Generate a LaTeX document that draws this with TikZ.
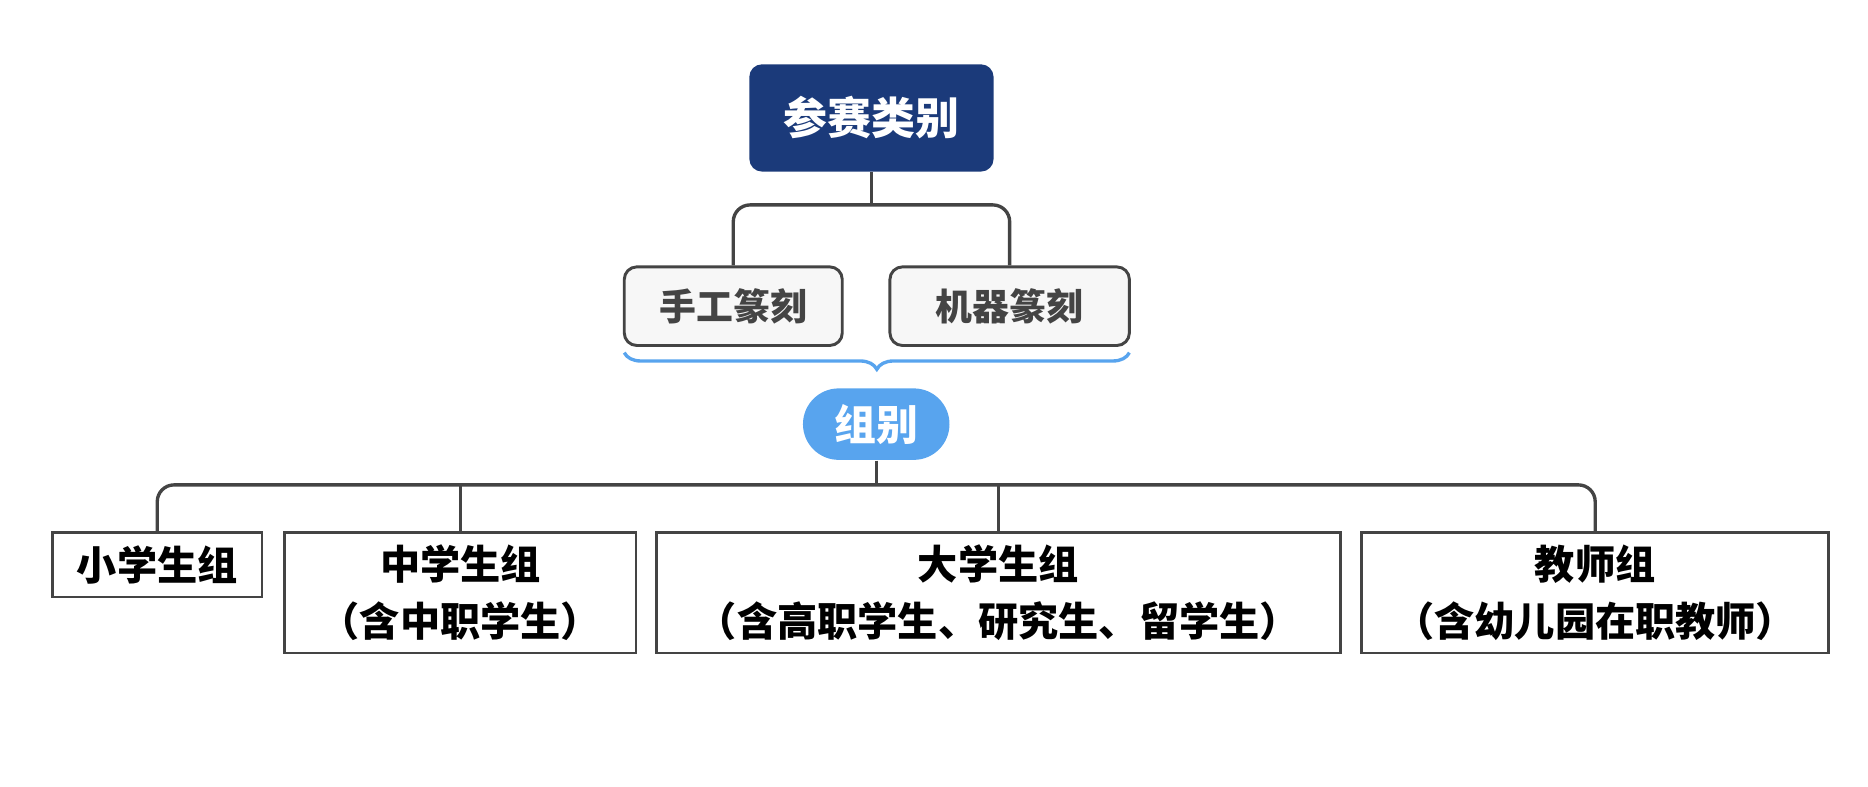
\documentclass[tikz,border=0pt]{standalone}
\usepackage{fontspec}
\setmainfont{Noto Sans CJK SC}
\usetikzlibrary{decorations.pathreplacing}
\definecolor{navy}{HTML}{1B3A7A}
\definecolor{sky}{HTML}{58A4EE}
\definecolor{edge}{HTML}{444444}

\begin{document}
\begin{tikzpicture}[x=1cm, y=-1cm]
\tikzstyle{top}=[fill=navy, rounded corners=3pt, text=white, font=\fontsize{10.5pt}{12pt}\selectfont\bfseries, minimum width=2.05cm, minimum height=0.9cm]
\tikzstyle{kind}=[draw=edge, line width=0.7pt, fill=gray!6, rounded corners=3pt, text=edge, font=\fontsize{8.8pt}{10pt}\selectfont\bfseries, minimum height=0.66cm]
\tikzstyle{grp}=[fill=sky, rounded corners=0.3cm, text=white, font=\fontsize{10pt}{12pt}\selectfont\bfseries, minimum width=1.23cm, minimum height=0.6cm]
\tikzstyle{leaf}=[draw=edge, line width=0.6pt, font=\fontsize{9.6pt}{13.5pt}\selectfont\bfseries, align=center, anchor=north, inner sep=0pt]
\tikzstyle{conn}=[draw=edge, line width=0.8pt, rounded corners=4pt]
	\useasboundingbox (0,0) rectangle (15.68,6.60);
	\node[top] (cat) at (7.315,0.99) {参赛类别};
	\node[kind, minimum width=1.83cm] (hand) at (6.155,2.57) {手工篆刻};
	\node[kind, minimum width=2.01cm] (mach) at (8.475,2.57) {机器篆刻};
	\node[grp] (group) at (7.355,3.56) {组别};
	\node[leaf, minimum width=1.76cm, minimum height=0.54cm] (primary) at (1.32,4.46) {小学生组};
	\node[leaf, minimum width=2.95cm, minimum height=1.01cm] (middle) at (3.865,4.46) {中学生组\\（含中职学生）};
	\node[leaf, minimum width=5.74cm, minimum height=1.01cm] (college) at (8.38,4.46) {大学生组\\（含高职学生、研究生、留学生）};
	\node[leaf, minimum width=3.92cm, minimum height=1.01cm] (teacher) at (13.39,4.46) {教师组\\（含幼儿园在职教师）};
	\coordinate (ja) at (7.315,1.72);
	\coordinate (jb) at (7.355,4.07);

	\draw[conn] (hand.north) |- (ja) -| (mach.north);
	\draw[edge, line width=0.8pt] (cat.south) -- (ja);
	\draw[sky, line width=0.8pt, decorate, decoration={brace, mirror, amplitude=0.14cm}] (5.24,2.96) -- (9.48,2.96);
	\draw[conn] (primary.north) |- (jb) -| (teacher.north);
	\draw[edge, line width=0.8pt] (group.south) -- (jb);
	\draw[edge, line width=0.8pt] (middle.north) -- (middle.north |- jb);
	\draw[edge, line width=0.8pt] (college.north) -- (college.north |- jb);
\end{tikzpicture}
\end{document}
